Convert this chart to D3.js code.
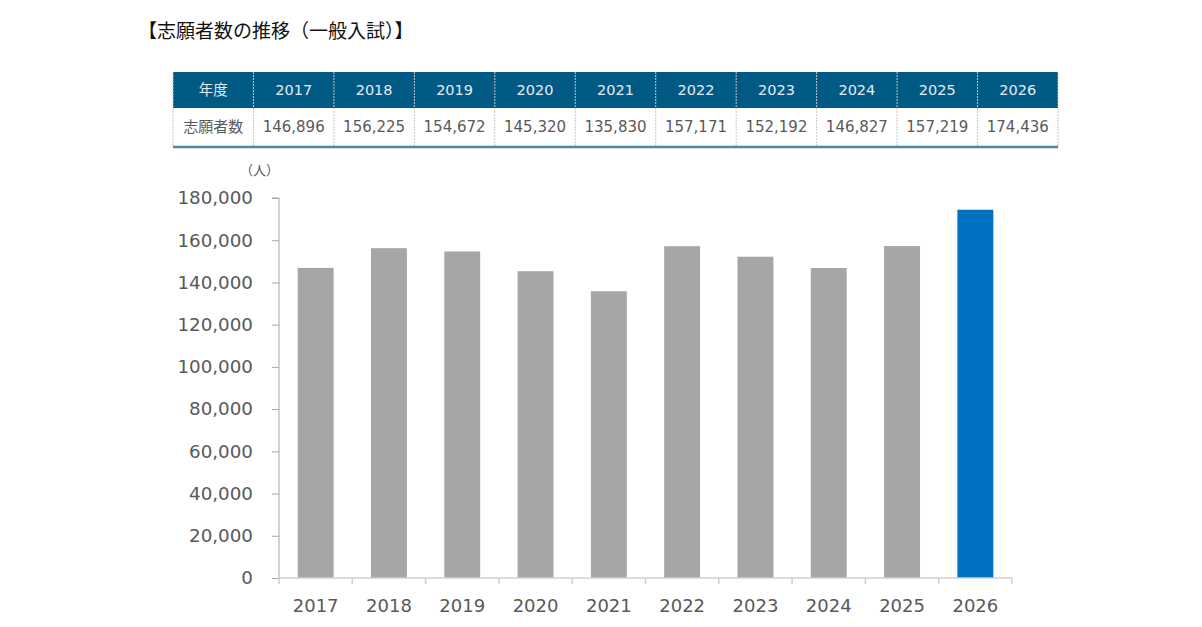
<!DOCTYPE html>
<html><head><meta charset="utf-8">
<script src="https://cdn.jsdelivr.net/npm/d3@7"></script>
<style>
html,body{margin:0;padding:0;background:#fff;}
svg{display:block;}
</style></head>
<body>
<svg id="c" width="1202" height="627"></svg>
<script>
const titleText = "【志願者数の推移（一般入試）】";
const years = ["2017","2018","2019","2020","2021","2022","2023","2024","2025","2026"];
const applicants = [146896,156225,154672,145320,135830,157171,152192,146827,157219,174436];
const highlightYear = "2026";
const yTicks = [0,20000,40000,60000,80000,100000,120000,140000,160000,180000];
const headerLabel = "年度";
const rowLabel = "志願者数";
const unitLabel = "（人）";

const svg = d3.select("#c");
const jp = "'Noto Sans CJK JP','Noto Sans',sans-serif";
const num = "'DejaVu Sans',Verdana,sans-serif";

// Title
svg.append("text").attr("x",138).attr("y",38)
  .attr("font-family",jp).attr("font-size",19).attr("fill","#111")
  .text(titleText);

// Table
const tLeft=173, tRight=1058, hTop=72, hBot=108, dBot=146;
const cols=[headerLabel].concat(years);
const tx = d3.scaleBand().domain(d3.range(cols.length)).range([tLeft,tRight]);
const tbl = svg.append("g");
tbl.append("rect").attr("x",tLeft).attr("y",hTop).attr("width",tRight-tLeft).attr("height",hBot-hTop).attr("fill","#005a84");
tbl.append("rect").attr("x",tLeft).attr("y",hBot).attr("width",tRight-tLeft).attr("height",dBot-hBot).attr("fill","#fff");
tbl.selectAll("line.sep").data(d3.range(0,cols.length+1)).join("line")
  .attr("x1",i=>i===cols.length?tRight:tx(i)).attr("x2",i=>i===cols.length?tRight:tx(i))
  .attr("y1",hTop).attr("y2",dBot)
  .attr("stroke","#c8c8c8").attr("stroke-width",1).attr("stroke-dasharray","2,1");
tbl.append("line").attr("x1",tLeft).attr("x2",tRight).attr("y1",dBot+1).attr("y2",dBot+1)
  .attr("stroke","#4a86ad").attr("stroke-width",2.5);
tbl.selectAll("text.h").data(cols).join("text")
  .attr("x",(d,i)=>tx(i)+tx.bandwidth()/2).attr("y",(hTop+hBot)/2+5)
  .attr("text-anchor","middle").attr("font-size",14.5)
  .attr("font-family",(d,i)=>i===0?jp:num).attr("fill","#e3ebf2")
  .text(d=>d);
const rowVals=[rowLabel].concat(applicants.map(v=>d3.format(",")(v)));
tbl.selectAll("text.v").data(rowVals).join("text")
  .attr("x",(d,i)=>tx(i)+tx.bandwidth()/2).attr("y",(hBot+dBot)/2+5)
  .attr("text-anchor","middle").attr("font-size",15)
  .attr("font-family",(d,i)=>i===0?jp:num).attr("fill","#595959")
  .text(d=>d);

// Chart
const pLeft=279, pRight=1012, pTop=198, pBottom=578;
const x = d3.scaleBand().domain(years).range([pLeft,pRight]).paddingInner(0.51).paddingOuter(0.255);
const y = d3.scaleLinear().domain([0,180000]).range([pBottom,pTop]);

svg.append("text").attr("x",240).attr("y",175).attr("font-family",jp)
  .attr("font-size",13).attr("fill","#595959").text(unitLabel);

const yAxis = svg.append("g").attr("transform",`translate(${pLeft},0)`)
  .call(d3.axisLeft(y).tickValues(yTicks).tickFormat(d3.format(",")).tickSize(7).tickPadding(19));
yAxis.select(".domain").attr("stroke","#a6a6a6").attr("d",`M-7,${pTop}H0V${pBottom}`);
yAxis.selectAll(".tick line").attr("stroke","#a6a6a6");
yAxis.selectAll(".tick text").attr("font-family",num).attr("font-size",18.3).attr("fill","#595959");

svg.selectAll("rect.bar").data(years).join("rect")
  .attr("x",d=>x(d)).attr("width",x.bandwidth())
  .attr("y",(d,i)=>y(applicants[i])).attr("height",(d,i)=>pBottom-y(applicants[i]))
  .attr("fill",d=>d===highlightYear?"#0070c0":"#a6a6a6");

const xb = d3.scaleLinear().domain([0,years.length]).range([pLeft,pRight]);
const xAxis = svg.append("g").attr("transform",`translate(0,${pBottom})`);
xAxis.append("line").attr("x1",pLeft).attr("x2",pRight).attr("stroke","#d0d0d0").attr("stroke-width",1.5);
xAxis.selectAll("line.t").data(d3.range(years.length+1)).join("line")
  .attr("x1",i=>xb(i)).attr("x2",i=>xb(i)).attr("y1",0).attr("y2",6)
  .attr("stroke","#d0d0d0").attr("stroke-width",1.5);
xAxis.selectAll("text").data(years).join("text")
  .attr("x",d=>x(d)+x.bandwidth()/2).attr("y",34)
  .attr("text-anchor","middle").attr("font-family",num).attr("font-size",18)
  .attr("fill","#595959").text(d=>d);
</script>
</body></html>
